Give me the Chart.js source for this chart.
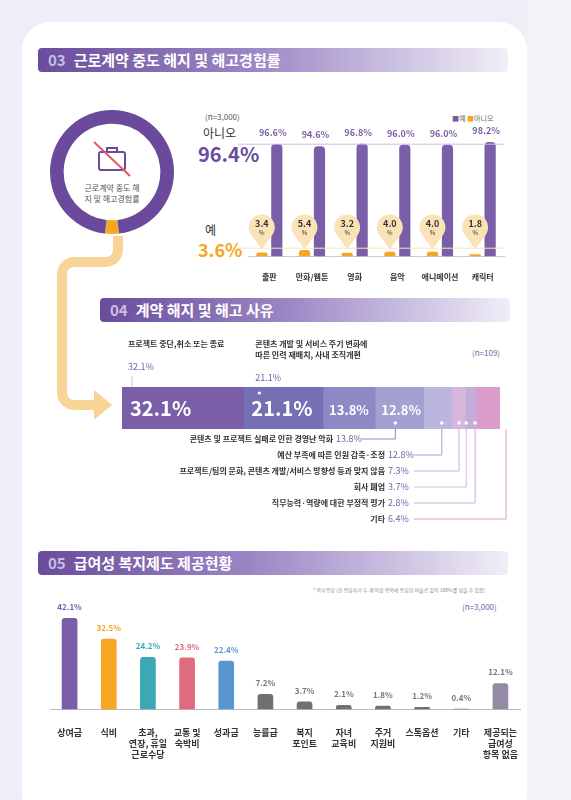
<!DOCTYPE html>
<html><head><meta charset="utf-8">
<script src="https://cdn.jsdelivr.net/npm/chart.js@4"></script>
<style>
body{margin:0;width:571px;height:800px;background:#efedf5;font-family:"Noto Sans CJK KR","Noto Sans",sans-serif;position:relative;overflow:hidden}
.card{position:absolute;left:22px;top:22px;width:505px;height:800px;background:#fff;border-radius:28px}
.side{position:absolute;left:527px;top:0;width:44px;height:800px;background:#f3f2f8}
.hdr{position:absolute;left:38px;width:470px;height:24px;border-radius:4px;background:linear-gradient(90deg,#6a4c9c 0%,#9a86c4 45%,#f1eef7 100%);color:#fff;font-weight:bold;font-size:15px;line-height:24px;padding-left:10px;box-sizing:border-box}
.hdr span{color:#c9bde6;margin-right:8px}
.t{position:absolute;white-space:nowrap}
canvas{position:absolute}
</style></head><body>
<div class="card"></div><div class="side"></div>
<div class="hdr" style="top:48px"><span>03</span>근로계약 중도 해지 및 해고경험률</div>
<div class="hdr" style="top:298px;left:100px;width:410px"><span>04</span>계약 해지 및 해고 사유</div>
<div class="hdr" style="top:551px"><span>05</span>급여성 복지제도 제공현황</div>
<svg style="position:absolute;left:0;top:0" width="571" height="800">
<path d="M118 236 L118 248 Q118 262 104 262 L76 262 Q62 262 62 276 L62 391 Q62 405 76 405 L96 405" fill="none" stroke="#f9d497" stroke-width="10"/>
<polygon points="94,390 112,405 94,420" fill="#f9d497"/>
<g transform="translate(112,162)" stroke="#6a4c9c" stroke-width="2" fill="none"><rect x="-13" y="-10" width="26" height="18" rx="2"/><path d="M-5 -10 v-4 h10 v4"/><line x1="-18" y1="-20" x2="18" y2="14" stroke="#e05a6a"/></g>
</svg>
<div class="t" style="left:82px;top:182px;font-size:8px;color:#555;text-align:center;width:60px;line-height:11px;white-space:normal">근로계약 중도 해지 및 해고경험률</div>
<div class="t" style="left:205px;top:111px;font-size:8px;color:#555">(n=3,000)</div>
<div class="t" style="left:203px;top:124px;font-size:12px;color:#333">아니오</div>
<div class="t" style="left:198px;top:139px;font-size:20px;color:#6a4c9c;font-weight:bold">96.4%</div>
<div class="t" style="left:205px;top:221px;font-size:12px;color:#333">예</div>
<div class="t" style="left:198px;top:236px;font-size:18px;color:#f5a623;font-weight:bold">3.6%</div>
<div class="t" style="left:452px;top:113px;font-size:7px;color:#666"><span style="color:#7a5aa8">■</span>예 <span style="color:#f5a623">■</span>아니오</div>
<div class="t" style="left:472px;top:347px;font-size:8px;color:#7a5aa8">(n=109)</div>
<div class="t" style="left:313px;top:586px;font-size:5px;color:#888">* 복수응답 (한 응답자가 두 개 이상 항목에 응답한 비율로 값이 100%를 넘을 수 있음)</div>
<div class="t" style="left:462px;top:601px;font-size:8px;color:#7a5aa8">(n=3,000)</div>
<canvas id="c0" style="left:48px;top:108px;width:128px;height:128px"></canvas>
<canvas id="c1" style="left:236px;top:100px;width:280px;height:190px"></canvas>
<canvas id="c2" style="left:100px;top:330px;width:420px;height:200px"></canvas>
<canvas id="c3" style="left:30px;top:590px;width:520px;height:180px"></canvas>
<script>
const donutLabels=['예','아니오'];
const donutValues=[3.6,96.4];
const genres=['출판','만화/웹툰','영화','음악','애니메이션','캐릭터'];
const yesValues=[96.6,94.6,96.8,96.0,96.0,98.2];
const noValues=[3.4,5.4,3.2,4.0,4.0,1.8];
const reasons=['프로젝트 중단,취소 또는 종료','콘텐츠 개발 및 서비스 주기 변화에 따른 인력 재배치, 사내 조직개편','콘텐츠 및 프로젝트 실패로 인한 경영난 악화','예산 부족에 따른 인원 감축·조정','프로젝트/팀의 문화, 콘텐츠 개발/서비스 방향성 등과 맞지 않음','회사 폐업','직무능력·역량에 대한 부정적 평가','기타'];
const reasonValues=[32.1,21.1,13.8,12.8,7.3,3.7,2.8,6.4];
const reasonColors=['#7b5ea8','#7470b3','#8c8ac4','#a3a0d2','#bab6de','#d7b7dc','#c6add9','#d99ccb'];
const welfare=[['상여금'],['식비'],['초과,','연장, 휴일','근로수당'],['교통 및','숙박비'],['성과금'],['능률급'],['복지','포인트'],['자녀','교육비'],['주거','지원비'],['스톡옵션'],['기타'],['제공되는','급여성','항목 없음']];
const welfareValues=[42.1,32.5,24.2,23.9,22.4,7.2,3.7,2.1,1.8,1.2,0.4,12.1];
const welfareColors=['#7b5ea8','#f5a623','#3aa9b5','#e06a7e','#5b95cf','#707070','#707070','#707070','#707070','#707070','#707070','#958aa6'];
const valueLabelColors=['#7b5ea8','#f5a623','#3aa9b5','#e06a7e','#5b95cf','#777','#777','#777','#777','#777','#777','#777'];
const F='"Noto Sans CJK KR","Noto Sans",sans-serif';
Chart.defaults.font.family=F;Chart.defaults.animation=false;
Chart.defaults.plugins.legend.display=false;Chart.defaults.plugins.tooltip.enabled=false;

new Chart(c0,{type:'doughnut',data:{labels:donutLabels,datasets:[{data:donutValues,backgroundColor:['#f5a623','#6b4a9e'],borderWidth:0}]},
options:{responsive:false,cutout:'78%',rotation:180-3.6*1.8,layout:{padding:2}}});

new Chart(c1,{type:'bar',data:{labels:genres,datasets:[
{label:'아니오',data:noValues,backgroundColor:'#f5a623',borderRadius:3,barPercentage:0.75,categoryPercentage:0.7},
{label:'예',data:yesValues,backgroundColor:'#7b5ea8',borderRadius:4,barPercentage:0.75,categoryPercentage:0.7}]},
options:{responsive:false,layout:{padding:{left:12,right:12,top:40,bottom:0}},
scales:{y:{display:false,min:0,max:100},x:{grid:{display:false},border:{color:'#ccc'},ticks:{color:'#333',font:{size:8,weight:'bold'},padding:8,maxRotation:0,autoSkip:false}}}},
plugins:[{afterDraw(ch){const c=ch.ctx,y=ch.scales.y,a=ch.chartArea;
c.save();c.lineWidth=1;c.strokeStyle='#c9bde6';c.beginPath();c.moveTo(a.left-10,y.getPixelForValue(96.4));c.lineTo(a.right,y.getPixelForValue(96.4));c.stroke();
c.strokeStyle='#fbe3b8';c.beginPath();c.moveTo(a.left-10,y.getPixelForValue(3.6)-4);c.lineTo(a.right,y.getPixelForValue(3.6)-4);c.stroke();
c.textAlign='center';
ch.getDatasetMeta(1).data.forEach((b,i)=>{c.fillStyle='#7b5ea8';c.font='bold 9px '+F;c.fillText(yesValues[i].toFixed(1)+'%',b.x-4,b.y-8);});
ch.getDatasetMeta(0).data.forEach((b,i)=>{const cx=b.x,cy=y.getPixelForValue(25);c.fillStyle='#fbe3b8';c.beginPath();c.arc(cx,cy,13,Math.PI*0.8,Math.PI*2.2);c.lineTo(cx,cy+22);c.closePath();c.fill();
c.fillStyle='#333';c.font='bold 9px '+F;c.fillText(noValues[i].toFixed(1),cx,cy);c.font='6px '+F;c.fillText('%',cx,cy+8);});
c.restore();}}]});

new Chart(c2,{type:'bar',data:{labels:['사유'],datasets:reasonValues.map((v,i)=>({label:reasons[i],data:[v],backgroundColor:reasonColors[i],barPercentage:1,categoryPercentage:1}))},
options:{indexAxis:'y',responsive:false,layout:{padding:{left:22,right:20,top:57,bottom:101}},
scales:{x:{display:false,stacked:true,min:0,max:100},y:{display:false,stacked:true}}},
plugins:[{afterDraw(ch){const c=ch.ctx;c.save();
const bars=reasonValues.map((v,i)=>ch.getDatasetMeta(i).data[0]);
const top=bars[0].y-bars[0].height/2,bot=bars[0].y+bars[0].height/2;
c.fillStyle='#fff';c.textBaseline='middle';
c.font='bold 20px '+F;c.fillText('32.1%',bars[0].base+8,bars[0].y);c.fillText('21.1%',bars[1].base+8,bars[1].y);
c.font='bold 13px '+F;c.fillText('13.8%',bars[2].base+6,bars[2].y+2);c.fillText('12.8%',bars[3].base+6,bars[3].y+2);
c.textBaseline='alphabetic';
[[0,['프로젝트 중단,취소 또는 종료']],[1,['콘텐츠 개발 및 서비스 주기 변화에','따른 인력 재배치, 사내 조직개편']]].forEach(([i,ls])=>{const x=bars[i].base+(i?16:10);
c.fillStyle='#333';c.font='bold 8px '+F;ls.forEach((l,k)=>c.fillText(l,x-4,17+k*11));
c.fillStyle='#7b5ea8';c.font='9px '+F;c.fillText(reasonValues[i]+'%',x-4,17+ls.length*11+12);
c.strokeStyle='#ccc';c.beginPath();c.moveTo(x,17+ls.length*11+18);c.lineTo(x,top);c.stroke();});
c.fillStyle='#fff';c.beginPath();c.arc(bars[1].base+16,top+6,1.6,0,7);c.fill();
for(let i=2;i<8;i++){const b=bars[i],dx=b.x+b.width/2-6,dy=bot-6,ry=112+(i-2)*16,tx=(i==2?236:288);
c.fillStyle='#fff';c.beginPath();c.arc(dx,dy,1.8,0,7);c.fill();
c.strokeStyle=reasonColors[i];c.lineWidth=1;c.beginPath();c.moveTo(dx,bot);c.lineTo(dx,ry-3);c.lineTo(tx+26,ry-3);c.stroke();
c.textAlign='right';c.fillStyle='#333';c.font='bold 8px '+F;c.fillText(reasons[i],tx-3,ry);
c.textAlign='left';c.fillStyle='#7b5ea8';c.font='9px '+F;c.fillText(reasonValues[i]+'%',tx,ry);}
c.restore();}}]});

new Chart(c3,{type:'bar',data:{labels:welfare,datasets:[{data:welfareValues,backgroundColor:welfareColors,borderRadius:3,barPercentage:0.4,categoryPercentage:1}]},
options:{responsive:false,layout:{padding:{left:20,right:30,top:26,bottom:0}},
scales:{y:{display:false,min:0,max:43},x:{grid:{display:false},border:{color:'#bbb'},ticks:{color:'#333',font:{size:9,weight:'bold'},padding:10,maxRotation:0,autoSkip:false}}}},
plugins:[{afterDraw(ch){const c=ch.ctx;c.save();c.textAlign='center';c.font='bold 8px '+F;
ch.getDatasetMeta(0).data.forEach((b,i)=>{c.fillStyle=valueLabelColors[i];c.fillText(welfareValues[i]+'%',b.x,b.y-8);});c.restore();}}]});
</script></body></html>
